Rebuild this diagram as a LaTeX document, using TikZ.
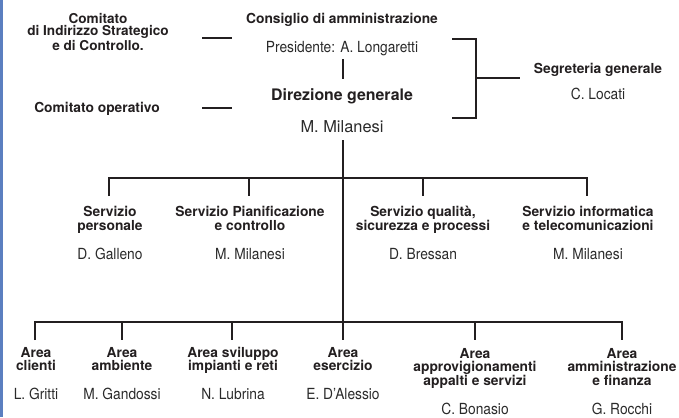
\documentclass[tikz,border=0pt]{standalone}
\usepackage{fontspec}
\setmainfont{TeX Gyre Heros}
\newfontfamily\condhv{TeX Gyre Heros}[FakeStretch=0.9]
\definecolor{ink}{HTML}{231F20}
\definecolor{ink2}{HTML}{2A2A2A}
\definecolor{blueline}{HTML}{5B7FC0}
\begin{document}
\begin{tikzpicture}[x=1bp,y=-1bp,
  lbl/.style={font=\bfseries\fontsize{13.8bp}{13.3bp}\selectfont, align=center, inner sep=0pt, anchor=base, text=ink},
  nm/.style={font=\condhv\fontsize{15.3bp}{14bp}\selectfont, inner sep=0pt, anchor=base, text=ink2},
  ln/.style={line width=2.2bp, draw=ink}]
\useasboundingbox (0,0) rectangle (679,417);
\fill[blueline] (0,0) rectangle (2.6,417);

% top block (base anchor = last line)
\node[lbl, font=\bfseries\fontsize{13.6bp}{12.6bp}\selectfont] (cis) at (98,50) {Comitato\\di Indirizzo Strategico\\e di Controllo.};
\node[lbl] (cop) at (97,112) {Comitato operativo};
\node[lbl] (cda) at (342,23) {Consiglio di amministrazione};
\node[nm] (pres) at (342,52) {Presidente: A. Longaretti};
\node[lbl, font=\bfseries\fontsize{15.9bp}{16bp}\selectfont] (dg) at (342,100) {Direzione generale};
\node[nm, font=\fontsize{16.4bp}{17bp}\selectfont] (mm) at (342,132) {M. Milanesi};
\node[lbl] (seg) at (598,73) {Segreteria generale};
\node[nm] (loc) at (598,99) {C. Locati};

\coordinate (d1a) at (202,38); \coordinate (d1b) at (232,38);
\coordinate (d2a) at (202,108); \coordinate (d2b) at (232,108);
\draw[ln] (d1a) -- (d1b);
\draw[ln] (d2a) -- (d2b);
\coordinate (pv1) at (343,59); \coordinate (pv2) at (343,79);
\draw[ln] (pv1) -- (pv2);
\coordinate (br1) at (452,39); \coordinate (br2) at (476,39);
\coordinate (br3) at (476,118); \coordinate (br4) at (452,118);
\coordinate (brm) at (476,78); \coordinate (bre) at (520,78);
\draw[ln] (br1) -- (br2) -- (br3) -- (br4);
\draw[ln] (brm) -- (bre);

% trunk
\coordinate (tr0) at (343,140);
\coordinate (tra) at (343,322);
\draw[ln] (tr0) -- (tra);

% services
\node[lbl] (s1) at (110,230) {Servizio\\personale};
\node[lbl] (s2) at (250,230) {Servizio Pianificazione\\e controllo};
\node[lbl] (s3) at (423,230) {Servizio qualità,\\sicurezza e processi};
\node[lbl] (s4) at (588,230) {Servizio informatica\\e telecomunicazioni};
\node[nm] (s1n) at (110,259) {D. Galleno};
\node[nm] (s2n) at (250,259) {M. Milanesi};
\node[nm] (s3n) at (423,259) {D. Bressan};
\node[nm] (s4n) at (588,259) {M. Milanesi};

\coordinate (sb1) at (109,178); \coordinate (sd1) at (109,196);
\coordinate (sb2) at (249,178); \coordinate (sd2) at (249,196);
\coordinate (sb3) at (423,178); \coordinate (sd3) at (423,196);
\coordinate (sb4) at (587,178); \coordinate (sd4) at (587,196);
\draw[ln] (sd1) -- (sb1) -- (sb4) -- (sd4);
\draw[ln] (sb2) -- (sd2);
\draw[ln] (sb3) -- (sd3);

% areas
\node[lbl] (a1) at (36,370.5) {Area\\clienti};
\node[lbl] (a2) at (122,370.5) {Area\\ambiente};
\node[lbl] (a3) at (233,370.5) {Area sviluppo\\impianti e reti};
\node[lbl] (a4) at (343,370.5) {Area\\esercizio};
\node[lbl] (a5) at (475,385) {Area\\approvigionamenti\\appalti e servizi};
\node[lbl] (a6) at (622,385) {Area\\amministrazione\\e finanza};
\node[nm] (a1n) at (36,399) {L. Gritti};
\node[nm] (a2n) at (122,399) {M. Gandossi};
\node[nm] (a3n) at (233,399) {N. Lubrina};
\node[nm] (a4n) at (343,399) {E. D’Alessio};
\node[nm] (a5n) at (475,414) {C. Bonasio};
\node[nm] (a6n) at (622,414) {G. Rocchi};

\coordinate (ab1) at (35,322); \coordinate (ad1) at (35,340);
\coordinate (ab2) at (122,322); \coordinate (ad2) at (122,340);
\coordinate (ab3) at (232,322); \coordinate (ad3) at (232,340);
\coordinate (ad4) at (343,340);
\coordinate (ab5) at (475,322); \coordinate (ad5) at (475,340);
\coordinate (ab6) at (622,322); \coordinate (ad6) at (622,340);
\draw[ln] (ad1) -- (ab1) -- (ab6) -- (ad6);
\draw[ln] (ab2) -- (ad2);
\draw[ln] (ab3) -- (ad3);
\draw[ln] (tra) -- (ad4);
\draw[ln] (ab5) -- (ad5);
\end{tikzpicture}
\end{document}
